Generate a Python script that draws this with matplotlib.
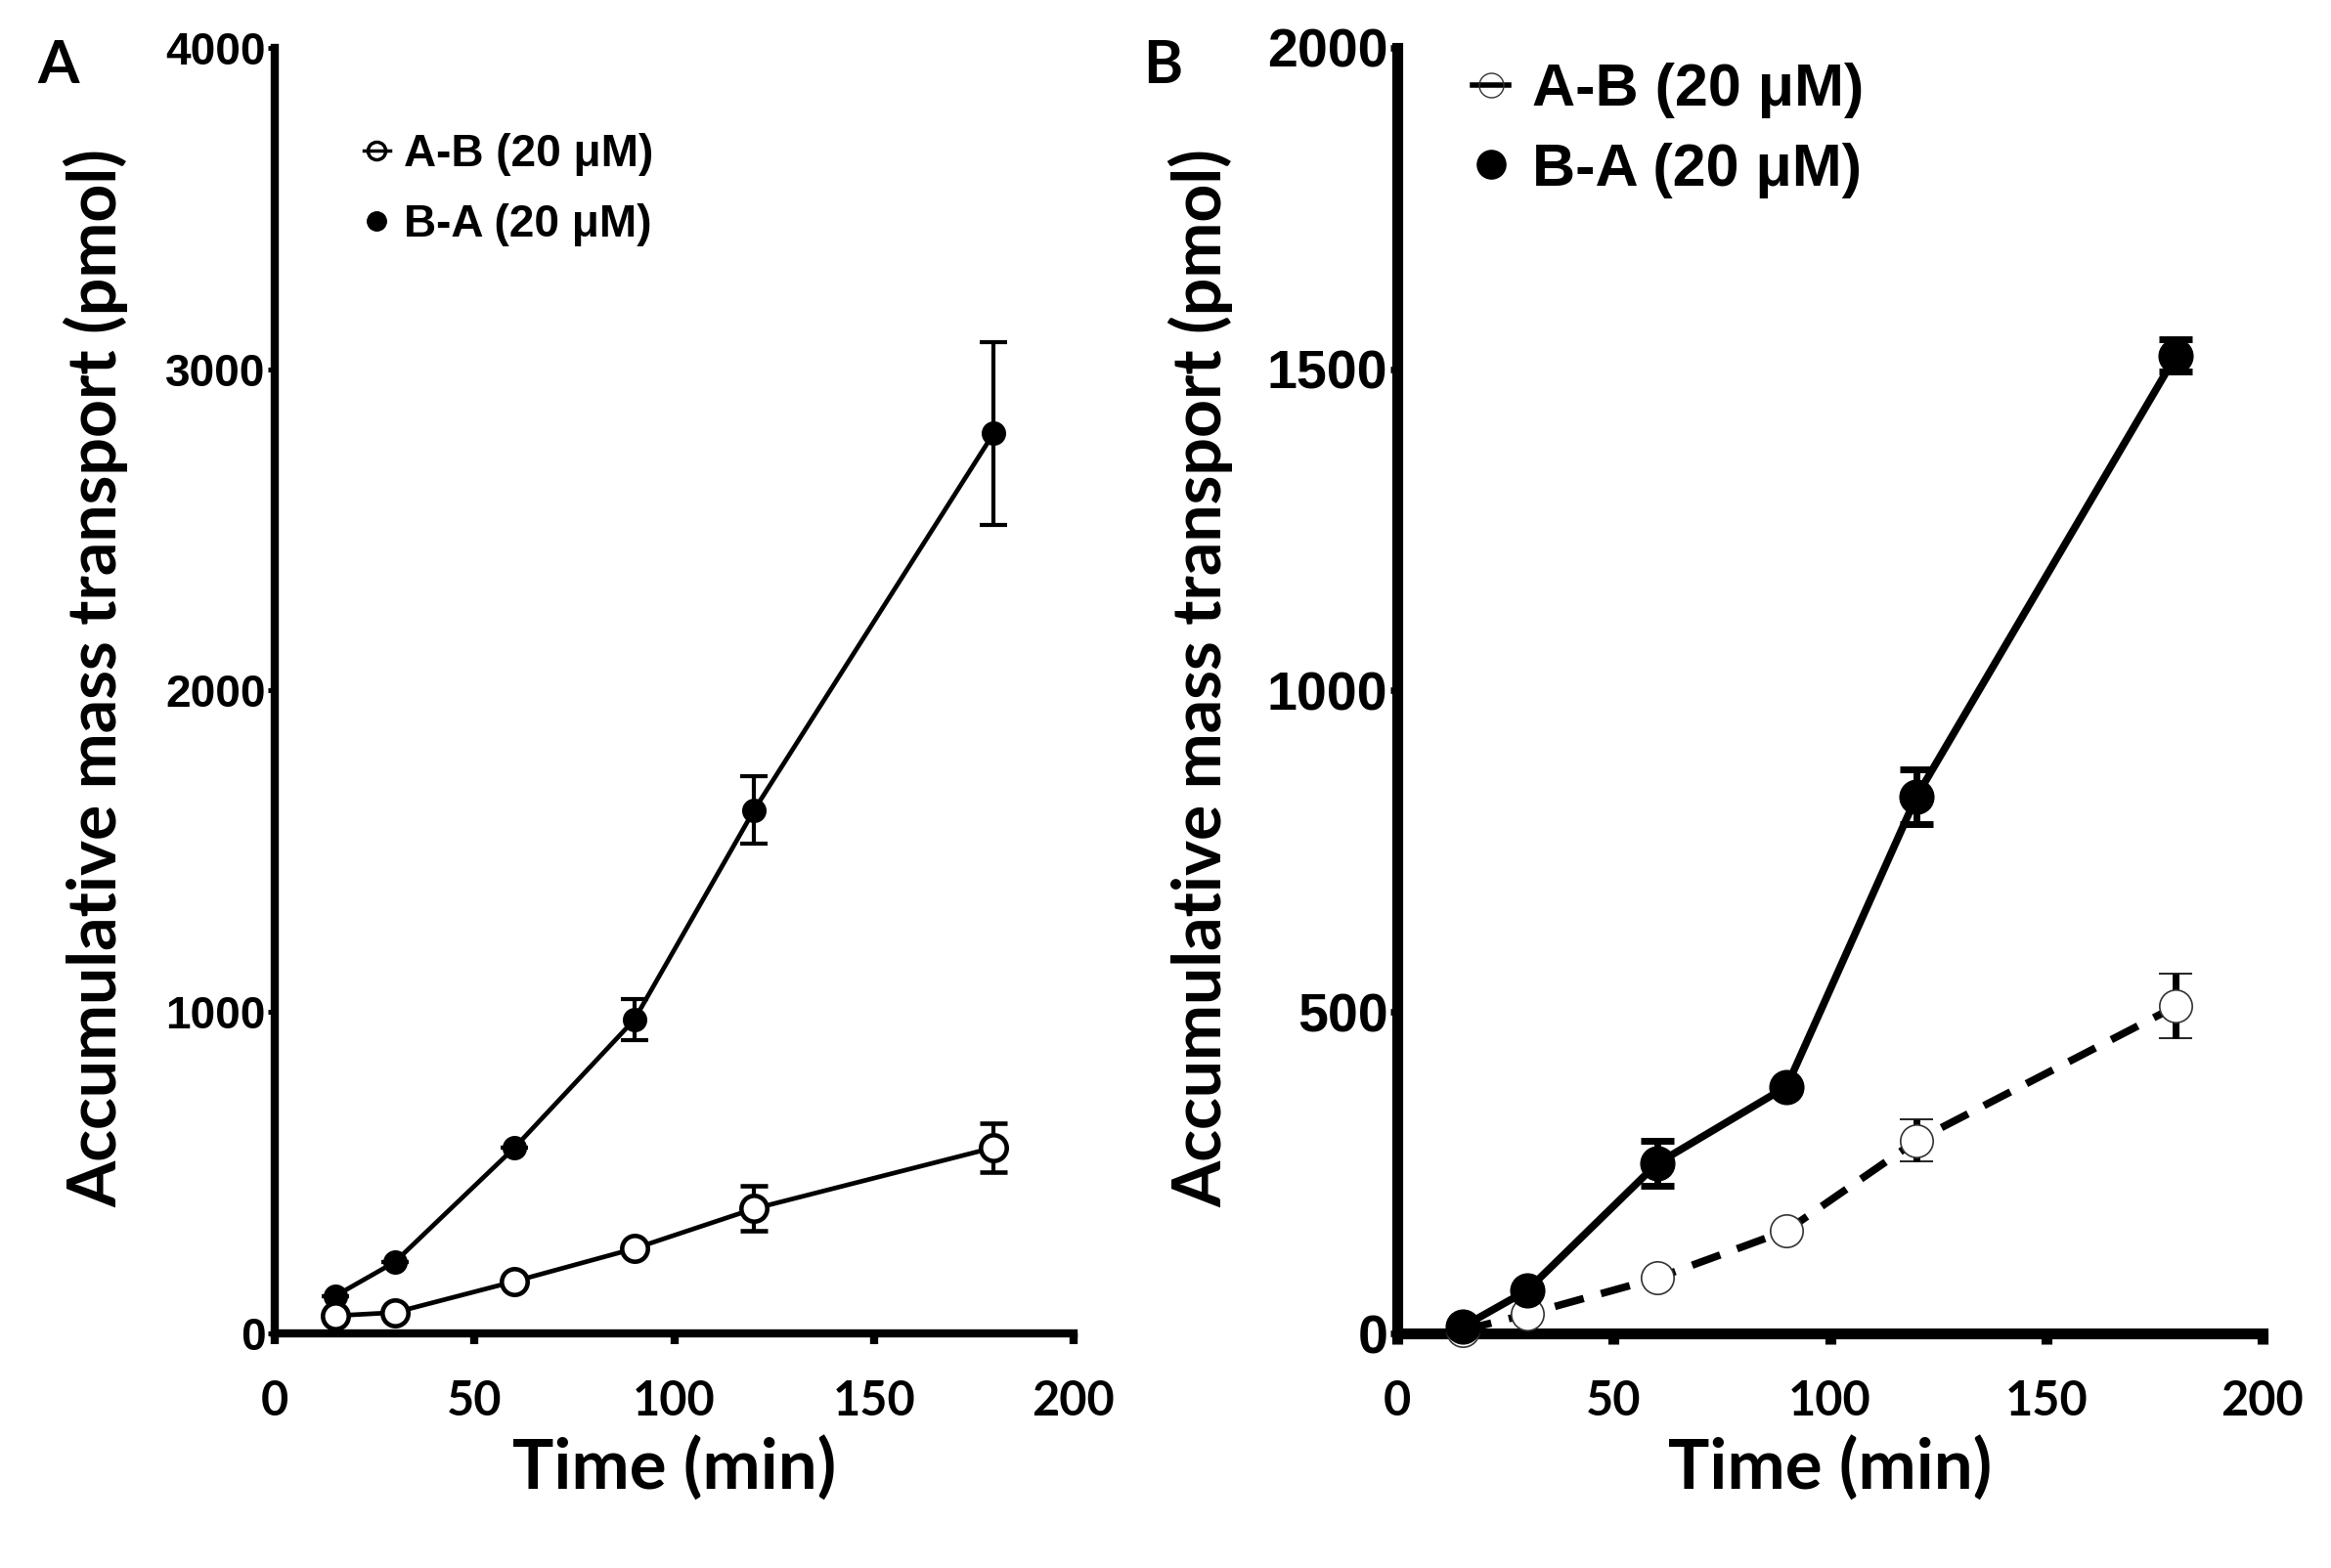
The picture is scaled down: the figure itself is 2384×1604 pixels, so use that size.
import matplotlib
matplotlib.use("Agg")
import matplotlib.pyplot as plt
from matplotlib.lines import Line2D

# time points (min)
time = [15, 30, 60, 90, 120, 180]

# panel A
a_ab = [55, 65, 162, 264, 388, 578]
a_ab_err = [0, 0, 0, 0, 70, 75]
a_ba = [116, 222, 578, 976, 1628, 2800]
a_ba_err = [0, 0, 0, 65, 105, 285]

# panel B
b_ab = [5, 30, 86, 160, 300, 509]
b_ab_err = [0, 0, 0, 0, 33, 50]
b_ba = [10, 67, 264, 384, 835, 1521]
b_ba_err = [0, 0, 35, 0, 42, 25]

xticks = [0, 50, 100, 150, 200]
a_yticks = [0, 1000, 2000, 3000, 4000]
b_yticks = [0, 500, 1000, 1500, 2000]

label_font = "Lato"
num_font = "Liberation Sans"

fig = plt.figure(figsize=(23.84, 16.04), dpi=100)
axA = fig.add_axes([0.118, 0.1496, 0.3425, 0.82])
axB = fig.add_axes([0.5995, 0.1496, 0.3711, 0.82])


def style_axis(ax, lw, ytick_size, yticks, ylim):
    ax.set_xlim(0, 200)
    ax.set_ylim(*ylim)
    for s in ["top", "right"]:
        ax.spines[s].set_visible(False)
    for s in ["left", "bottom"]:
        ax.spines[s].set_linewidth(lw)
    ax.set_xticks(xticks)
    ax.set_yticks(yticks)
    ax.set_xticklabels([str(t) for t in xticks], family=label_font,
                       fontweight="bold", fontsize=35)
    ax.set_yticklabels([str(t) for t in yticks], family=num_font,
                       fontweight="bold", fontsize=ytick_size)
    ax.tick_params(axis="x", direction="out", length=8, width=lw, pad=26)
    ax.tick_params(axis="y", direction="out", length=5, width=lw * 0.6, pad=2)
    ax.set_xlabel("Time (min)", family=label_font, fontweight="bold",
                  fontsize=51, labelpad=8)
    ax.set_ylabel("Accumulative mass transport (pmol)", family=label_font,
                  fontweight="bold", fontsize=49)


# ---- panel A ----
axA.errorbar(time, a_ba, yerr=a_ba_err, color="black", lw=3.4, marker="o",
             ms=17, mfc="black", mec="black", capsize=10, elinewidth=3,
             capthick=3, clip_on=False, zorder=3)
axA.errorbar(time, a_ab, yerr=a_ab_err, color="black", lw=3.4, marker="o",
             ms=19, mfc="white", mec="black", mew=3.3, capsize=10,
             elinewidth=3, capthick=3, clip_on=False, zorder=4)
style_axis(axA, 6, 33, a_yticks, (0, 4000))
axA.yaxis.set_label_coords(-0.184, 0.51)

hA = [Line2D([0], [0], color="black", lw=2.5, marker="o", ms=13,
             mfc="none", mec="black", mew=2.5),
      Line2D([0], [0], color="black", lw=0, marker="o", ms=14,
             mfc="black", mec="black")]
axA.legend(hA, ["A-B (20 μM)", "B-A (20 μM)"], loc="upper left",
           bbox_to_anchor=(0.06, 0.965), frameon=False, handlelength=0.6,
           handletextpad=0.3, labelspacing=0.6,
           prop={"family": num_font, "weight": "bold", "size": 33})

# ---- panel B ----
axB.errorbar(time, b_ab, yerr=b_ab_err, color="black", lw=5.5, ls=(0, (4, 2.4)),
             marker="o", ms=24, mfc="white", mec="#333333", mew=1.2,
             capsize=12, elinewidth=5, capthick=5, clip_on=False, zorder=3)
axB.errorbar(time, b_ba, yerr=b_ba_err, color="black", lw=5.5, marker="o",
             ms=25, mfc="black", mec="black", capsize=12, elinewidth=5,
             capthick=5, clip_on=False, zorder=4)
style_axis(axB, 8, 40, b_yticks, (0, 2000))
axB.yaxis.set_label_coords(-0.19, 0.51)

hB = [Line2D([0], [0], color="black", lw=4, marker="o", ms=18,
             mfc="none", mec="#333333", mew=1),
      Line2D([0], [0], color="black", lw=0, marker="o", ms=21,
             mfc="black", mec="black")]
axB.legend(hB, ["A-B (20 μM)", "B-A (20 μM)"], loc="upper left",
           bbox_to_anchor=(0.025, 1.03), frameon=False, handlelength=0.6,
           handletextpad=0.4, labelspacing=0.4,
           prop={"family": num_font, "weight": "bold", "size": 44})

# panel letters
fig.text(0.025, 0.958, "A", family=label_font, fontweight="bold", fontsize=44,
         va="center", ha="center")
fig.text(0.499, 0.958, "B", family=label_font, fontweight="bold", fontsize=44,
         va="center", ha="center")

fig.savefig("out.png", dpi=100)
